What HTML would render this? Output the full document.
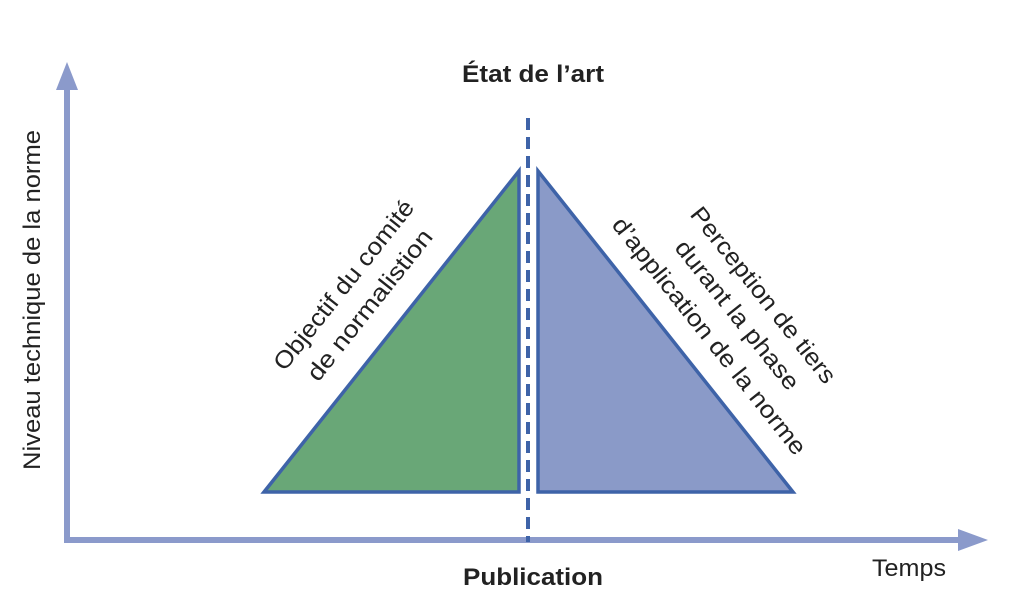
<!DOCTYPE html>
<html><head><meta charset="utf-8"><style>html,body{margin:0;padding:0;background:#fff}svg{display:block}</style></head>
<body>
<svg width="1015" height="615" viewBox="0 0 1015 615" xmlns="http://www.w3.org/2000/svg" font-family="Liberation Sans, sans-serif">
<line x1="67" y1="540" x2="67" y2="85" stroke="#8b9acb" stroke-width="6"/>
<polygon points="67,62 56,90 78,90" fill="#8b9acb"/>
<line x1="64" y1="540" x2="960" y2="540" stroke="#8b9acb" stroke-width="6"/>
<polygon points="988,540 958,529 958,551" fill="#8b9acb"/>
<polygon points="264,492 519,171 519,492" fill="#69a777" stroke="#3e63a8" stroke-width="3.5"/>
<polygon points="538,171 538,492 793,492" fill="#8a9ac8" stroke="#3e63a8" stroke-width="3.5"/>
<line x1="528" y1="118" x2="528" y2="542" stroke="#3e63a8" stroke-width="4" stroke-dasharray="12,7"/>
<g fill="#222" text-anchor="middle" font-size="24">
<text x="533" y="82" font-weight="bold" textLength="142" lengthAdjust="spacingAndGlyphs">État de l’art</text>
<text x="533" y="585" font-weight="bold" textLength="140" lengthAdjust="spacingAndGlyphs">Publication</text>
<text x="909" y="576" textLength="74" lengthAdjust="spacingAndGlyphs">Temps</text>
<text transform="translate(40,300) rotate(-90)" textLength="340" lengthAdjust="spacingAndGlyphs">Niveau technique de la norme</text>
<text transform="translate(350,290) rotate(-51.5)" textLength="210" lengthAdjust="spacingAndGlyphs">Objectif du comité</text>
<text transform="translate(376,310) rotate(-51.5)" textLength="186" lengthAdjust="spacingAndGlyphs">de normalistion</text>
<text transform="translate(757,300) rotate(51.5)" textLength="218" lengthAdjust="spacingAndGlyphs">Perception de tiers</text>
<text transform="translate(731,320) rotate(51.5)" textLength="184" lengthAdjust="spacingAndGlyphs">durant la phase</text>
<text transform="translate(703,341) rotate(51.5)" textLength="296" lengthAdjust="spacingAndGlyphs">d’application de la norme</text>
</g>
</svg>
</body></html>
